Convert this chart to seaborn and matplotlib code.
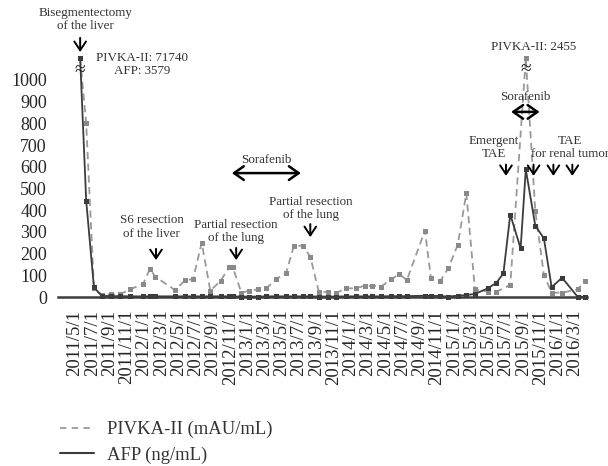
import numpy as np
import pandas as pd
import matplotlib
matplotlib.use("Agg")
import matplotlib.pyplot as plt
from matplotlib.lines import Line2D
import seaborn as sns

# --- data ---
dates = ["2011/5/19", "2011/6/10", "2011/7/7", "2011/8/4", "2011/9/7", "2011/10/7",
         "2011/11/13", "2011/12/28", "2012/1/22", "2012/2/10", "2012/4/19", "2012/5/25",
         "2012/6/22", "2012/7/22", "2012/8/22", "2012/9/28", "2012/10/28", "2012/11/10",
         "2012/12/10", "2013/1/7", "2013/2/7", "2013/3/7", "2013/4/10", "2013/5/16",
         "2013/6/13", "2013/7/13", "2013/8/10", "2013/9/10", "2013/10/10", "2013/11/10",
         "2013/12/13", "2014/1/19", "2014/2/19", "2014/3/16", "2014/4/16", "2014/5/22",
         "2014/6/19", "2014/7/16", "2014/9/19", "2014/10/10", "2014/11/13", "2014/12/10",
         "2015/1/13", "2015/2/13", "2015/3/13", "2015/4/28", "2015/5/28", "2015/6/22",
         "2015/7/16", "2015/8/22", "2015/9/10", "2015/10/13", "2015/11/13", "2015/12/10",
         "2016/1/16", "2016/3/10", "2016/4/7"]

pivka = [71740, 800, 40, 10, 12, 12, 35, 60, 130, 94, 32, 78,
         82, 250, 29, 75, 138, 138, 20, 29, 35, 40, 81, 112,
         236, 236, 186, 22, 24, 18, 40, 40, 52, 51, 48, 81,
         106, 78, 306, 86, 75, 132, 240, 478, 35, 25, 25, np.nan,
         55, np.nan, 2455, 398, 101, 20, 20, 35, 75]

afp = [3579, 444, 45, 5, 4, 4, 3, 3, 3, 3, 3, 3,
       3, 3, 3, 3, 3, 3, 2, 2, 2, 3, 3, 3,
       3, 3, 3, 2, 2, 2, 3, 3, 3, 3, 3, 4,
       4, 4, 6, 6, 4, 2, 6, 9, 14, 40, 66, 109,
       380, 224, 588, 329, 270, 45, 89, 2, 1]

tick_labels = [f"{2011 + (4 + k) // 12}/{(4 + k) % 12 + 1}/1" for k in range(0, 59, 2)]
cap = 1100  # values above 1000 are drawn at the broken top

def month_offset(s):
    y, m, d = (int(v) for v in s.split("/"))
    return (y - 2011) * 12 + (m - 5) + (d - 1) / 30

df = pd.DataFrame({"month": [month_offset(s) for s in dates], "PIVKA": pivka, "AFP": afp})
df["PIVKA_shown"] = np.minimum(df["PIVKA"], cap)
df["AFP_shown"] = np.minimum(df["AFP"], cap)

sns.set_theme(style="white")
plt.rcParams["font.family"] = ["Liberation Serif", "DejaVu Serif"]

GRAY_LINE = "#9a9a9a"
DARK_LINE = "#3c3c3c"
DASH = (0, (4, 2.5))

fig = plt.figure(figsize=(6.08, 4.66), dpi=100)
ax = fig.add_axes([58 / 608, (466 - 297) / 466, (587 - 58) / 608, 260.4 / 466])

p = df.dropna(subset=["PIVKA"])
sns.lineplot(x=p["month"], y=p["PIVKA_shown"], ax=ax, color=GRAY_LINE, lw=1.3,
             linestyle=DASH, marker="s", markersize=3.6, markeredgewidth=0,
             markerfacecolor="#8a8a8a", estimator=None, legend=False)
sns.lineplot(x=df["month"], y=df["AFP_shown"], ax=ax, color=DARK_LINE, lw=1.3,
             marker="s", markersize=3.6, markeredgewidth=0, estimator=None, legend=False)
for ln in ax.lines:
    ln.set_clip_on(False)

ax.set_xlim(-1.97, 59.4)
ax.set_ylim(0, 1200)
ax.set_xticks(range(0, 59, 2))
ax.set_xticklabels(tick_labels, rotation=90, fontsize=13.5)
ax.set_yticks(range(0, 1001, 100))
ax.set_yticklabels([str(v) for v in range(0, 1001, 100)], fontsize=13)
ax.tick_params(axis="x", length=0, pad=9)
ax.tick_params(axis="y", length=0, pad=8)
ax.set_xlabel("")
ax.set_ylabel("")
for s in ["left", "top", "right"]:
    ax.spines[s].set_visible(False)
ax.spines["bottom"].set_color(DARK_LINE)
ax.spines["bottom"].set_linewidth(1.8)
ax.grid(False)

# --- annotations ---
fs = 9.4
txt = dict(ha="center", va="center", fontsize=fs, color="#333333", linespacing=1.15)
down = dict(arrowstyle="->,head_length=0.45,head_width=0.3", color="black", lw=1.4,
            mutation_scale=14, shrinkA=0, shrinkB=0)
both = dict(arrowstyle="<->,head_length=0.5,head_width=0.35", color="black", lw=1.8,
            mutation_scale=14, shrinkA=0, shrinkB=0)
brk = dict(ha="center", va="center", fontsize=14, color="#222222")

ax.text(1.2, 1279, "Bisegmentectomy\nof the liver", **txt)
ax.annotate("", xy=(0.6, 1129), xytext=(0.6, 1194), arrowprops=down)
ax.text(7.8, 1071, "PIVKA-II: 71740\nAFP: 3579", **txt)
ax.text(0.6, 1042, "≈", **brk)

ax.text(8.9, 323, "S6 resection\nof the liver", **txt)
ax.annotate("", xy=(9.4, 170), xytext=(9.4, 222), arrowprops=down)

ax.text(18.7, 302, "Partial resection\nof the lung", **txt)
ax.annotate("", xy=(18.7, 170), xytext=(18.7, 226), arrowprops=down)

ax.text(22.2, 631, "Sorafenib", **txt)
ax.annotate("", xy=(18.2, 571), xytext=(26.2, 571), arrowprops=both)

ax.text(27.4, 408, "Partial resection\nof the lung", **txt)
ax.annotate("", xy=(27.3, 276), xytext=(27.3, 336), arrowprops=down)

ax.text(53.2, 1152, "PIVKA-II: 2455", **txt)
ax.text(52.3, 1050, "≈", **brk)
ax.text(52.2, 922, "Sorafenib", **txt)
ax.annotate("", xy=(50.6, 853), xytext=(53.9, 853), arrowprops=both)
ax.text(48.6, 689, "Emergent\nTAE", **txt)
ax.text(57.4, 689, "TAE\nfor renal tumor", **txt)
for m in [50.0, 53.2, 55.5, 57.7]:
    ax.annotate("", xy=(m, 558), xytext=(m, 610), arrowprops=down)

handles = [Line2D([0], [0], color=GRAY_LINE, lw=1.3, linestyle=(0, (3.5, 3))),
           Line2D([0], [0], color=DARK_LINE, lw=1.5)]
fig.legend(handles, ["PIVKA-II (mAU/mL)", "AFP (ng/mL)"], loc="upper left",
           bbox_to_anchor=(60 / 608, 1 - 421 / 466), frameon=False, fontsize=13.4,
           handlelength=1.8, handletextpad=0.75, labelspacing=0.45, borderaxespad=0,
           borderpad=0, labelcolor="#333333")

fig.savefig("out.png", dpi=100)
